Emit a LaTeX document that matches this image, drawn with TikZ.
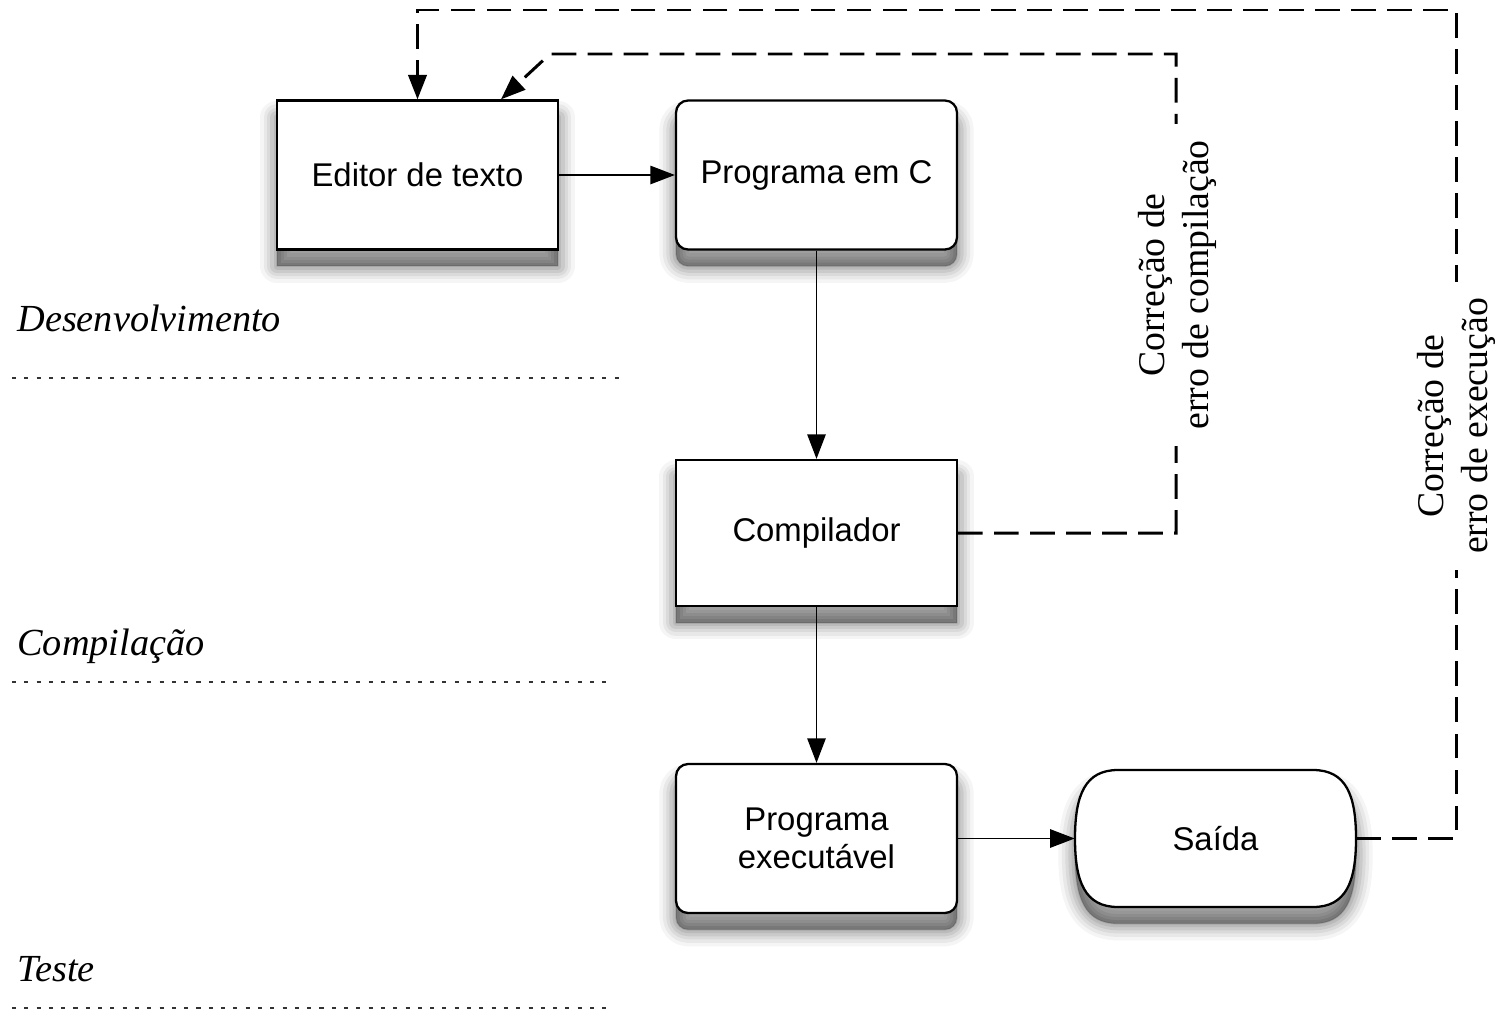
\documentclass[tikz,border=0pt]{standalone}
\usepackage{fontspec}
\setmainfont{Liberation Serif}
\newfontfamily\boxfont{Liberation Sans}
\usetikzlibrary{arrows.meta,shadows,calc}

\begin{document}
\begin{tikzpicture}[x=0.02cm,y=-0.02cm,
  shl/.style 2 args={general shadow={shadow yshift=-9.5pt, draw=black, fill=black, line width=#1, opacity=#2, line join=round}},
  softshadow/.style={shl={19pt}{0.04}, shl={15pt}{0.05}, shl={11pt}{0.06}, shl={7.5pt}{0.07}, shl={4pt}{0.08}, shl={1pt}{0.1}},
  box/.style={draw=black, fill=white, line width=1.3pt, minimum width=5.62cm, minimum height=2.98cm,
    inner sep=0pt, font=\boxfont\fontsize{18.7}{22}\selectfont, align=center, softshadow},
  rbox/.style={box, rounded corners=0.24cm},
  flow/.style={line width=0.85pt, -{Triangle[length=14pt,width=10.5pt]}},
  fb/.style={line width=1.7pt, dash pattern=on 14pt off 6.5pt, -{Triangle[length=14pt,width=10.5pt]}},
  fblabel/.style={rotate=90, fill=white, align=center, inner xsep=9pt, inner ysep=1pt,
    font=\fontsize{21.5}{25}\selectfont},
  phase/.style={anchor=base west, inner sep=0pt, font=\itshape\fontsize{21.8}{24}\selectfont},
  sep/.style={draw=black!80, line width=1.2pt, dash pattern=on 2.3pt off 4.7pt}
]
\useasboundingbox[fill=white] (0,0) rectangle (1501,1011);

% boxes
\node[box] (editor) at (417.5,175) {Editor de texto};
\node[rbox] (progc) at (816.5,175) {Programa em C};
\node[box, minimum height=2.92cm] (comp) at (816.5,533) {Compilador};
\node[rbox] (exe) at (816.5,838.5) {Programa\\executável};

% Saida (terminal shape)
\path[draw=black, fill=white, line width=1.3pt, softshadow]
  (1075,838.5) .. controls (1075,795) and (1085,770) .. (1118,770) -- (1313,770)
  .. controls (1346,770) and (1356,795) .. (1356,838.5)
  .. controls (1356,882) and (1346,907) .. (1313,907) -- (1118,907)
  .. controls (1085,907) and (1075,882) .. (1075,838.5) -- cycle;
\node[minimum width=5.62cm, minimum height=2.74cm, inner sep=0pt,
  font=\boxfont\fontsize{18.7}{22}\selectfont] (saida) at (1215.5,838.5) {Saída};

% flow connectors
\draw[flow] (editor.east) -- (progc.west);
\draw[flow] (progc.south) -- (comp.north);
\draw[flow] (comp.south) -- (exe.north);
\draw[flow] (exe.east) -- (saida.west);

% feedback connectors
\draw[fb] (comp.east) -| (1176,54) -- (550,54) -- ([xshift=1.67cm]editor.north);
\draw[fb] (saida.east) -| (1456,10) -| (editor.north);

\node[fblabel] (lbl1) at (1177,285) {Correção de\\erro de compilação};
\node[fblabel] (lbl2) at (1456,426) {Correção de\\erro de execução};

% phases
\node[phase] (dev) at (17,331) {Desenvolvimento};
\node[phase] (cmp) at (17,655) {Compilação};
\node[phase] (tst) at (17,981) {Teste};
\draw[sep] (12,378) -- (622,378);
\draw[sep] (12,682) -- (610,682);
\draw[sep] (12,1008) -- (610,1008);
\end{tikzpicture}
\end{document}
